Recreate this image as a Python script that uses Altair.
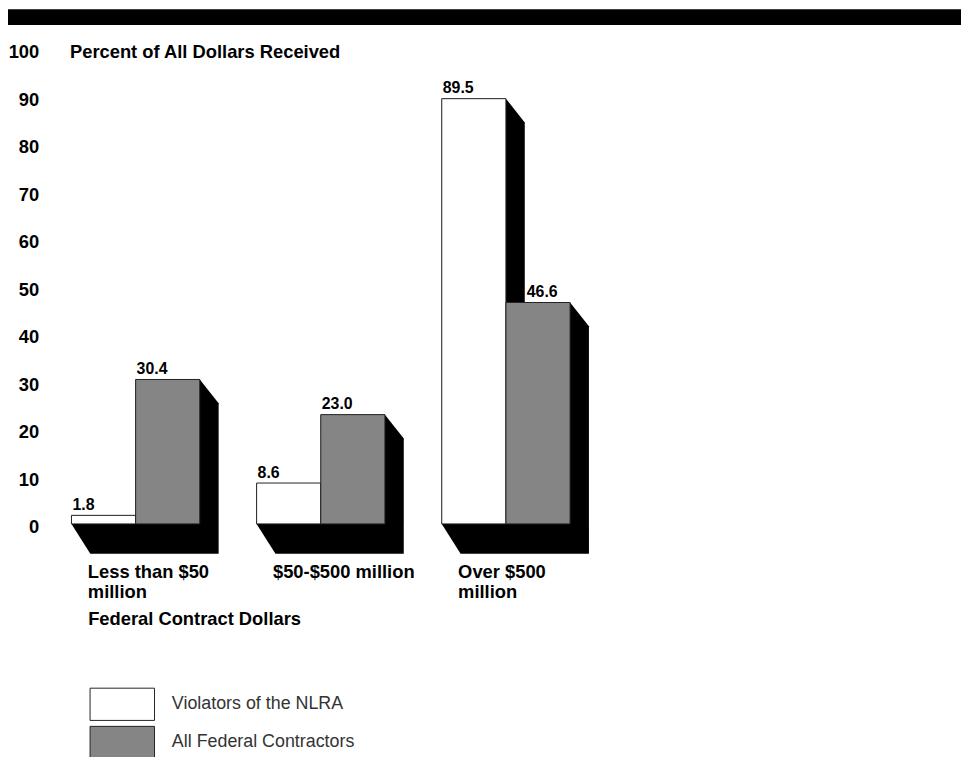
import altair as alt
import pandas as pd

# ---- data ----
categories = ["Less than $50\nmillion", "$50-$500 million", "Over $500\nmillion"]
series = ["Violators of the NLRA", "All Federal Contractors"]
violators = [1.8, 8.6, 89.5]
all_contractors = [30.4, 23.0, 46.6]
y_ticks = list(range(0, 101, 10))

# ---- layout constants (not data) ----
GROUP_PX = 186.7          # px between group starts
Y_PX = 527 / 110          # px per percentage point
BAR_W = 64.7 / GROUP_PX   # bar width in group units
DX = 19 / GROUP_PX        # shadow horizontal depth
DY_SIDE = 24 / Y_PX       # shadow vertical drop of the side face
DY_BOT = 30 / Y_PX        # shadow depth below the baseline
LABEL_DX = 16.5 / GROUP_PX
X_MIN = -26 / GROUP_PX
W, H = 884, 527
FONT = "Liberation Sans"

bar_rows, shadow_rows, cat_rows = [], [], []
for i, cat in enumerate(categories):
    cat_rows.append({"cat": cat, "lx": i + LABEL_DX})
    vals_here = [violators[i], all_contractors[i]]
    for j, s in enumerate(series):
        v = vals_here[j]
        x0 = i + j * BAR_W
        x1 = x0 + BAR_W
        # move a label clear of the taller left neighbour's shadow
        shift = 21 if (j > 0 and vals_here[j - 1] > v) else 1
        bar_rows.append({"cat": cat, "series": s, "value": v, "base": 0.0,
                         "x0": x0, "x1": x1, "tx": x0 + shift / GROUP_PX,
                         "label": f"{v:.1f}"})
        sid = f"{i}-{j}"
        for xx, top, bot in [(x0, v, 0.0), (x0 + DX, v, -DY_BOT),
                             (x1, v, -DY_BOT), (x1 + DX, v - DY_SIDE, -DY_BOT)]:
            shadow_rows.append({"sid": sid, "x": xx, "top": top, "bot": bot})

bars_df = pd.DataFrame(bar_rows)
shadow_df = pd.DataFrame(shadow_rows)
cat_df = pd.DataFrame(cat_rows)

xscale = alt.Scale(domain=[X_MIN, X_MIN + W / GROUP_PX], nice=False, zero=False)
yscale = alt.Scale(domain=[-10, 100], nice=False, zero=False)

x_axis = alt.Axis(title="Federal Contract Dollars", labels=False, ticks=False,
                  domain=False, grid=False, titleX=42.3, titleY=53.7,
                  titleAlign="left", titleBaseline="alphabetic",
                  titleFont=FONT, titleFontSize=18.5, titleFontWeight="bold",
                  titleColor="black")
y_axis = alt.Axis(title="Percent of All Dollars Received", values=y_ticks,
                  ticks=False, tickSize=0, domain=False, grid=False,
                  labelPadding=7, labelOffset=9, labelAlign="right",
                  labelBaseline="alphabetic", labelFont=FONT,
                  labelFontSize=18.5, labelFontWeight="bold",
                  labelColor="black", labelOverlap=False, labelFlush=False,
                  titleAngle=0, titleX=24, titleY=9, titleAlign="left",
                  titleBaseline="alphabetic", titleFont=FONT,
                  titleFontSize=18.5, titleFontWeight="bold",
                  titleColor="black")

header = alt.Chart(pd.DataFrame({"k": [0]})).mark_rect(color="black").encode(
    x=alt.value(-38), x2=alt.value(W + 39), y=alt.value(-40), y2=alt.value(-24)
)

shadows = alt.Chart(shadow_df).mark_area(color="black", interpolate="linear").encode(
    x=alt.X("x:Q", scale=xscale, axis=x_axis),
    y=alt.Y("top:Q", scale=yscale, axis=y_axis),
    y2="bot:Q",
    detail="sid:N",
)

# legend swatch: a 65x32.5 rectangle drawn from a path twice as wide as the
# nominal symbol size, so the legend rows are laid out on the 32.5 px height
bars = alt.Chart(bars_df).mark_bar(stroke="#222", strokeWidth=1).encode(
    x=alt.X("x0:Q", scale=xscale),
    x2="x1:Q",
    y=alt.Y("value:Q", scale=yscale),
    y2="base:Q",
    fill=alt.Fill("series:N",
                  scale=alt.Scale(domain=series, range=["white", "#858585"]),
                  legend=alt.Legend(title=None, orient="none", legendX=60.25,
                                    legendY=644, symbolType="M-2,-1H2V1H-2Z",
                                    symbolSize=1056, symbolStrokeColor="#222",
                                    symbolStrokeWidth=1, symbolOpacity=1,
                                    labelFont=FONT, labelFontSize=18,
                                    labelColor="#333", labelOffset=33,
                                    labelLimit=400, rowPadding=0.5, padding=0)),
)

values = alt.Chart(bars_df).mark_text(align="left", baseline="alphabetic", dy=-5.5,
                                      font=FONT, fontSize=16, fontWeight="bold",
                                      color="black").encode(
    x=alt.X("tx:Q", scale=xscale),
    y=alt.Y("value:Q", scale=yscale),
    text="label:N",
)

cats = alt.Chart(cat_df).mark_text(align="left", baseline="alphabetic", lineBreak="\n",
                                   lineHeight=20, font=FONT, fontSize=18.5,
                                   fontWeight="bold", color="black").encode(
    x=alt.X("lx:Q", scale=xscale),
    y=alt.value(534),
    text="cat:N",
)

chart = alt.layer(header, shadows, bars, values, cats).properties(
    width=W, height=H,
    autosize=alt.AutoSizeParams(type="none"),
    padding={"left": 38, "top": 38, "right": 39, "bottom": 184},
    background="white",
).configure_view(stroke=None)

chart.save("out.html", embed_options={"renderer": "svg", "actions": False})
